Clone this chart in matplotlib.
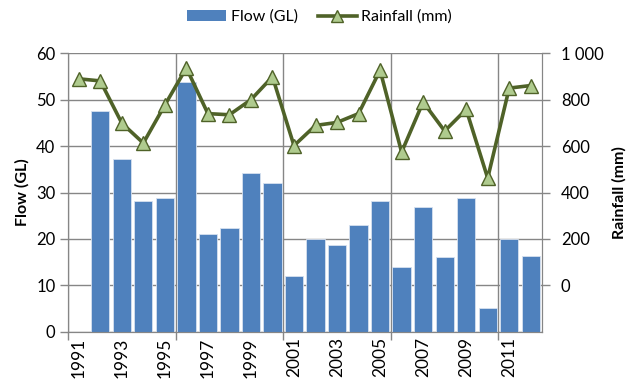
import matplotlib
matplotlib.use("Agg")
import matplotlib.pyplot as plt
import numpy as np
from matplotlib.lines import Line2D
from matplotlib.patches import Patch

years = list(range(1991, 2013))
flow_gl = [np.nan, 47.6, 37.2, 28.2, 28.8, 53.9, 21.1, 22.4, 34.2, 32.0, 11.9,
           20.0, 18.6, 23.1, 28.2, 13.9, 26.9, 16.0, 28.8, 5.2, 20.0, 16.4]
rainfall_mm = [890, 881, 699, 613, 777, 937, 740, 735, 800, 899, 602,
               689, 702, 740, 927, 574, 790, 665, 758, 462, 850, 861]
right_ticks = [0, 200, 400, 600, 800, 1000]
right_labels = ["0", "200", "400", "600", "800", "1 000"]

plt.rcParams['font.family'] = ['Lato', 'DejaVu Sans']

W, H = 627, 382
fig = plt.figure(figsize=(W / 100, H / 100), dpi=100)
ax = fig.add_axes([68 / W, 1 - 331.7 / H, (541.5 - 68) / W, (331.7 - 53.3) / H])
ax2 = ax.twinx()

x = np.arange(len(years))
grid_c = '#868686'
bar_c = '#4F81BD'
line_c = '#4F6228'
mark_c = '#AFCB8E'

ax.bar(x, flow_gl, width=0.85, color=bar_c, edgecolor='#D6E1F0', linewidth=0.6, zorder=3)
ax.set_xlim(-0.5, len(years) - 0.5)
ax.set_ylim(0, 60)
ax.set_yticks([0, 10, 20, 30, 40, 50, 60])
ax.yaxis.grid(True, color=grid_c, linewidth=1.0, zorder=0)
ax.set_axisbelow(True)

# major ticks at category boundaries every 5 (grid lines), minor labels at centers every 2
ax.set_xticks(np.arange(-0.5, len(years), 5))
ax.set_xticklabels([])
ax.xaxis.grid(True, which='major', color=grid_c, linewidth=1.0)
ax.set_xticks(x[::2], minor=True)
ax.set_xticklabels([str(y) for y in years[::2]], minor=True, rotation=90, fontsize=12.5)
ax.tick_params(axis='x', which='minor', length=0, pad=4)
ax.tick_params(axis='x', which='major', length=6, color=grid_c, width=1.0)
ax.tick_params(axis='y', length=6, color=grid_c, width=1.0, labelsize=12, pad=3)

for s in ['top']:
    ax.spines[s].set_visible(False)
    ax2.spines[s].set_visible(False)
for sp in ['left', 'bottom', 'right']:
    ax.spines[sp].set_color(grid_c)
    ax2.spines[sp].set_color(grid_c)

ax2.plot(x, rainfall_mm, color=line_c, linewidth=2.6, marker='^', markersize=10,
         markerfacecolor=mark_c, markeredgecolor=line_c, markeredgewidth=1.0, zorder=4)
ax2.set_ylim(-200, 1000)
ax2.set_yticks(right_ticks)
ax2.set_yticklabels(right_labels)
ax2.tick_params(axis='y', length=6, color=grid_c, width=1.0, labelsize=12, pad=8)

ax.set_ylabel('Flow (GL)', fontsize=11.5, fontweight='bold', labelpad=5)
ax2.set_ylabel('Rainfall (mm)', fontsize=11.5, fontweight='bold', labelpad=6)

handles = [Patch(facecolor=bar_c, edgecolor='none'),
           Line2D([0], [0], color=line_c, linewidth=2.6, marker='^', markersize=8,
                  markerfacecolor=mark_c, markeredgecolor=line_c, markeredgewidth=1.0)]
fig.legend(handles, ['Flow (GL)', 'Rainfall (mm)'], loc='center', bbox_to_anchor=(0.51, 1 - 17 / H),
           ncol=2, frameon=False, fontsize=11.5, handlelength=2.4, handletextpad=0.3,
           columnspacing=1.3)

fig.savefig('out.png', dpi=100)
